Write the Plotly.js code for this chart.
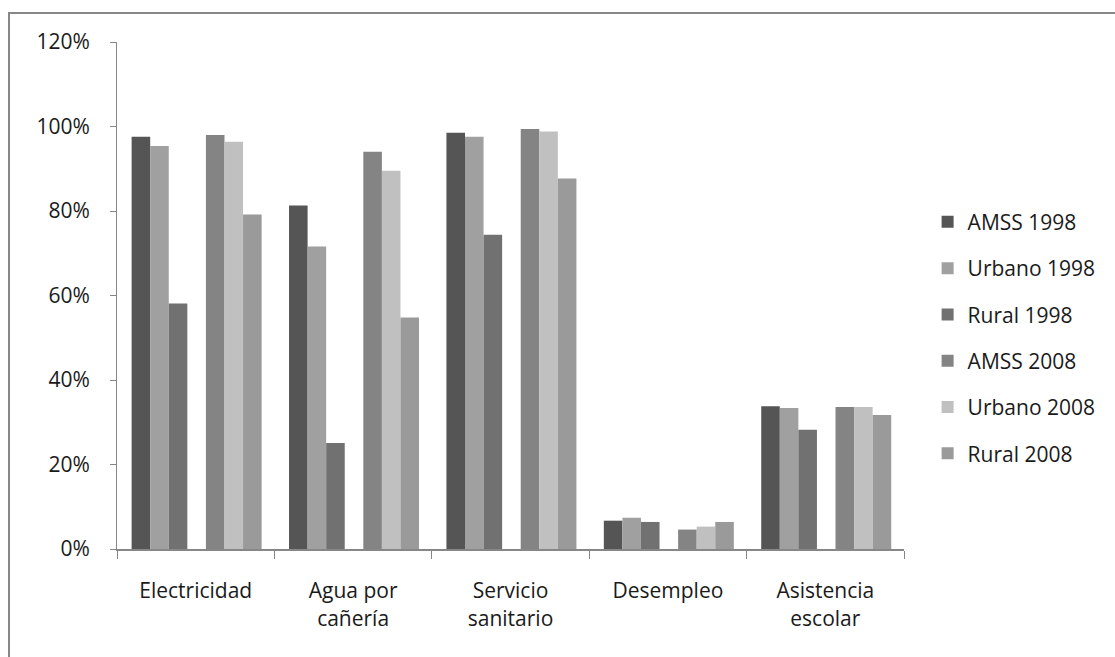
<!DOCTYPE html>
<html>
<head>
<meta charset="utf-8">
<script src="https://cdn.plot.ly/plotly-3.0.1.min.js"></script>
<style>
  html, body { margin: 0; padding: 0; background: #fff; }
  #wrap { position: relative; width: 1115px; height: 657px; overflow: hidden; }
  #frame { position: absolute; left: 8px; top: 12px; width: 1200px; height: 700px;
           border-left: 2px solid #878787; border-top: 2px solid #878787; pointer-events: none; }
  #chart { position: absolute; left: 0; top: 0; width: 1115px; height: 657px; }
</style>
</head>
<body>
<div id="wrap">
  <div id="chart"></div>
  <div id="frame"></div>
</div>
<script>
const categories = ["Electricidad", "Agua por<br>cañería", "Servicio<br>sanitario", "Desempleo", "Asistencia<br>escolar"];

const amss1998   = [0.976, 0.813, 0.985, 0.067, 0.338];
const urbano1998 = [0.954, 0.716, 0.976, 0.074, 0.334];
const rural1998  = [0.581, 0.251, 0.744, 0.064, 0.282];
const amss2008   = [0.980, 0.940, 0.994, 0.046, 0.336];
const urbano2008 = [0.964, 0.895, 0.988, 0.053, 0.336];
const rural2008  = [0.792, 0.548, 0.877, 0.064, 0.317];

const seriesNames = ["AMSS 1998", "Urbano 1998", "Rural 1998", "AMSS 2008", "Urbano 2008", "Rural 2008"];
const seriesValues = [amss1998, urbano1998, rural1998, amss2008, urbano2008, rural2008];
const seriesColors = ["#555555", "#a0a0a0", "#717171", "#848484", "#c0c0c0", "#9a9a9a"];
const slots = [0, 1, 2, 4, 5, 6];   // slot 3 is the gap between the two years

const w = 0.118;
const traces = seriesValues.map((vals, i) => ({
  type: "bar",
  name: seriesNames[i],
  x: categories,
  y: vals,
  width: w,
  offset: (slots[i] - 3.45) * w,
  marker: { color: seriesColors[i], line: { width: 0 } },
  legendgroup: "g" + i,
  hoverinfo: "x+y+name"
}));

const font = { family: "Open Sans, sans-serif", size: 21, color: "#1a1a1a" };

const layout = {
  width: 1115, height: 657,
  margin: { l: 117, r: 211, t: 42, b: 108, pad: 0 },
  paper_bgcolor: "rgba(0,0,0,0)",
  plot_bgcolor: "#fff",
  font: font,
  barmode: "overlay",
  showlegend: true,
  legend: {
    x: 1.03, xanchor: "left", y: 0.685, yanchor: "top",
    font: font,
    tracegroupgap: 16,
    bgcolor: "rgba(0,0,0,0)"
  },
  xaxis: {
    type: "category",
    showgrid: false,
    showline: true, linecolor: "#878787", linewidth: 2,
    ticks: "outside", tickson: "boundaries", ticklen: 8, tickcolor: "#878787", tickwidth: 1,
    ticklabelstandoff: 22,
    tickfont: font,
    fixedrange: true
  },
  yaxis: {
    range: [0, 1.2],
    tickvals: [0, 0.2, 0.4, 0.6, 0.8, 1.0, 1.2],
    ticktext: ["0%", "20%", "40%", "60%", "80%", "100%", "120%"],
    showgrid: false, zeroline: false,
    showline: true, linecolor: "#878787", linewidth: 1,
    ticks: "outside", ticklen: 6, tickcolor: "#878787", tickwidth: 1,
    ticklabelstandoff: 16,
    tickfont: font,
    fixedrange: true
  }
};

Plotly.newPlot("chart", traces, layout, { displayModeBar: false, staticPlot: true });
</script>
</body>
</html>
